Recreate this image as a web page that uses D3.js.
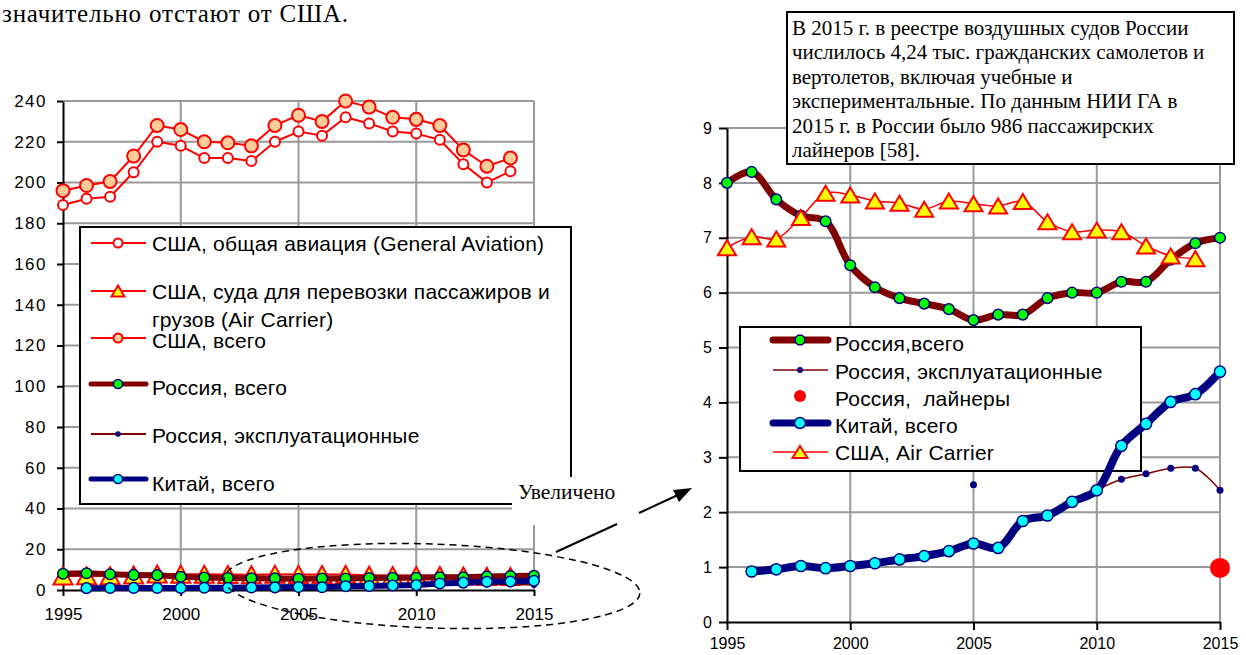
<!DOCTYPE html>
<html>
<head>
<meta charset="utf-8">
<script src="https://cdn.jsdelivr.net/npm/d3@7"></script>
<style>
  body { margin: 0; background: #fff; }
  svg { display: block; }
</style>
</head>
<body>
<svg width="1246" height="655"></svg>
<script>
/****************************************************************
    Data
/****************************************************************/
const years = [1995, 1996, 1997, 1998, 1999, 2000, 2001, 2002, 2003, 2004, 2005,
  2006, 2007, 2008, 2009, 2010, 2011, 2012, 2013, 2014, 2015]

// thousands of aircraft
const usGeneralAviation = [189, 192, 193, 205, 220, 218, 212, 212, 210.5, 220, 225,
  223, 232, 229, 225, 224, 221, 209, 200, 205.5, null]
const usTotal = [196, 198.5, 200.5, 213, 228, 226, 220, 219.5, 218, 228, 233,
  230, 240, 237, 232, 231, 228, 216, 208, 212, null]
const usAirCarrier = [6.82, 7.02, 6.98, 7.37, 7.81, 7.78, 7.67, 7.63, 7.52, 7.67, 7.62,
  7.58, 7.66, 7.29, 7.11, 7.14, 7.11, 6.85, 6.67, 6.62, null]
const russiaTotal = [8.0, 8.2, 7.7, 7.4, 7.3, 6.5, 6.1, 5.9, 5.8, 5.7, 5.5,
  5.6, 5.6, 5.9, 6.0, 6.0, 6.2, 6.2, 6.6, 6.9, 7.0]
const russiaInService = [null, null, null, null, null, null, null, null, null, null, 2.5,
  null, null, null, null, 2.4, 2.6, 2.7, 2.8, 2.8, 2.4]
const russiaAirliners = [null, null, null, null, null, null, null, null, null, null, null,
  null, null, null, null, null, null, null, null, null, 0.986]
const chinaTotal = [null, 0.92, 0.96, 1.02, 0.98, 1.02, 1.07, 1.14, 1.2, 1.29, 1.43,
  1.35, 1.84, 1.94, 2.19, 2.4, 3.21, 3.61, 4.01, 4.15, 4.56]

const xTicks = [1995, 2000, 2005, 2010, 2015]
const leftYTicks = [0, 20, 40, 60, 80, 100, 120, 140, 160, 180, 200, 220, 240]
const rightYTicks = [0, 1, 2, 3, 4, 5, 6, 7, 8, 9]

const leftLegendLabels = [
  ['США, общая авиация (General Aviation)'],
  ['США, суда для перевозки пассажиров и', 'грузов (Air Carrier)'],
  ['США, всего'],
  ['Россия, всего'],
  ['Россия, эксплуатационные'],
  ['Китай, всего']
]
const rightLegendLabels = ['Россия,всего', 'Россия, эксплуатационные', 'Россия,  лайнеры',
  'Китай, всего', 'США, Air Carrier']

const noteLines = [
  'В 2015 г. в реестре воздушных судов России',
  'числилось 4,24 тыс. гражданских самолетов и',
  'вертолетов, включая учебные и',
  'экспериментальные. По данным НИИ ГА в',
  '2015 г. в России было 986 пассажирских',
  'лайнеров [58].'
]
const headText = 'значительно отстают от США.'
const zoomText = 'Увеличено'

/****************************************************************
    Settings
/****************************************************************/
const settings = {
  sans: 'Liberation Sans, Arial, sans-serif',
  serif: 'Liberation Serif, Times New Roman, serif',
  grid: '#999999',
  red: '#ff0000',
  maroon: '#800000',
  navy: '#000080',
  green: '#00ff00',
  cyan: '#00ffff',
  yellow: '#ffff00',
  peach: '#ffcc99',
  legendSize: 21,
  legendSpacing: 0.2
}

const svg = d3.select('svg')

const xL = d3.scaleLinear().domain([1995, 2015]).range([63, 534])
const yL = d3.scaleLinear().domain([0, 240]).range([590, 101])
const xR = d3.scaleLinear().domain([1995, 2015]).range([727, 1220])
const yR = d3.scaleLinear().domain([0, 9]).range([622, 128])

/****************************************************************
    Helpers
/****************************************************************/
function triPath(w, h) {
  return `M0,${-h / 2}L${w / 2},${h / 2}L${-w / 2},${h / 2}Z`
}

function marker(g, m, cx, cy) {
  if (m.shape === 'triangle') {
    g.append('path')
      .attr('d', triPath(m.w, m.h))
      .attr('transform', `translate(${cx},${cy})`)
      .attr('fill', m.fill)
      .attr('stroke', m.stroke)
      .attr('stroke-width', m.sw)
      .attr('stroke-linejoin', 'miter')
  } else {
    g.append('circle')
      .attr('cx', cx)
      .attr('cy', cy)
      .attr('r', m.r)
      .attr('fill', m.fill)
      .attr('stroke', m.stroke || 'none')
      .attr('stroke-width', m.sw || 0)
  }
}

function gridAndAxes(x, y, yTicks, o) {
  let g = svg.append('g')
  let [x0, x1] = x.range()
  g.selectAll('line.h')
    .data(yTicks.slice(1))
    .enter()
    .append('line')
    .attr('x1', x0)
    .attr('x2', x1)
    .attr('y1', d => y(d))
    .attr('y2', d => y(d))
    .attr('stroke', settings.grid)
    .attr('stroke-width', 2)
  g.selectAll('line.v')
    .data(xTicks.slice(1))
    .enter()
    .append('line')
    .attr('x1', d => x(d))
    .attr('x2', d => x(d))
    .attr('y1', y.range()[0])
    .attr('y2', y.range()[1])
    .attr('stroke', settings.grid)
    .attr('stroke-width', 2)

  let ay = g.append('g')
    .attr('transform', `translate(${x0},0)`)
    .call(d3.axisLeft(y).tickValues(yTicks).tickSize(o.tick).tickSizeOuter(0).tickPadding(o.padY))
  let ax = g.append('g')
    .attr('transform', `translate(0,${y.range()[0]})`)
    .call(d3.axisBottom(x).tickValues(xTicks).tickFormat(d3.format('d')).tickSize(o.tick).tickSizeOuter(0).tickPadding(o.padX))
  for (let a of [ay, ax]) {
    a.attr('font-size', o.font).attr('font-family', settings.sans)
    a.select('.domain').attr('stroke', '#000').attr('stroke-width', 2)
    a.selectAll('.tick line').attr('stroke', '#000').attr('stroke-width', 2)
    a.selectAll('.tick text').attr('fill', '#000')
  }
  ay.selectAll('.tick text').style('letter-spacing', o.yls + 'px')
}

function drawSeries(x, y, values, st) {
  let g = svg.append('g')
  let pts = years.map((yr, i) => [yr, values[i]])
  if (st.line) {
    g.append('path')
      .datum(pts)
      .attr('d', d3.line()
        .defined(d => d[1] != null)
        .x(d => x(d[0]))
        .y(d => y(d[1]))
        .curve(st.curve || d3.curveLinear))
      .attr('fill', 'none')
      .attr('stroke', st.line)
      .attr('stroke-width', st.lw)
      .attr('stroke-linejoin', 'round')
  }
  return () => pts.filter(d => d[1] != null).forEach(d => marker(g, st.m, x(d[0]), y(d[1])))
}

function legendRow(lx, ly, st, m, lw) {
  let g = svg.append('g')
  if (st.line) {
    g.append('line')
      .attr('x1', lx)
      .attr('x2', lx + 55)
      .attr('y1', ly)
      .attr('y2', ly)
      .attr('stroke', st.line)
      .attr('stroke-width', lw)
      .attr('stroke-linecap', lw > 3 ? 'round' : 'butt')
  }
  marker(g, m, lx + 27, ly)
}

function legendText(tx, ty, text) {
  svg.append('text')
    .attr('x', tx)
    .attr('y', ty)
    .attr('font-family', settings.sans)
    .attr('font-size', settings.legendSize)
    .style('letter-spacing', settings.legendSpacing + 'px')
    .style('white-space', 'pre')
    .text(text)
}

/****************************************************************
    Text above
/****************************************************************/
svg.append('text')
  .attr('x', 2)
  .attr('y', 22)
  .attr('font-family', settings.serif)
  .attr('font-size', 25)
  .style('letter-spacing', '0.8px')
  .text(headText)

/****************************************************************
    Left chart
/****************************************************************/
gridAndAxes(xL, yL, leftYTicks, { tick: 6, padY: 10, padX: 12, font: 17, yls: 1.5 })

svg.append('rect')
  .attr('x', 80).attr('y', 227).attr('width', 491).attr('height', 277)
  .attr('fill', '#fff').attr('stroke', '#000').attr('stroke-width', 2)

const leftStyles = [
  { values: usGeneralAviation, line: settings.red, lw: 2, m: { r: 5, fill: '#fff', stroke: settings.red, sw: 2 } },
  { values: usAirCarrier, line: settings.red, lw: 2, m: { shape: 'triangle', w: 19, h: 17, fill: settings.yellow, stroke: settings.red, sw: 2 } },
  { values: usTotal, line: settings.red, lw: 2, m: { r: 6.5, fill: settings.peach, stroke: settings.red, sw: 2 } },
  { values: russiaTotal, line: settings.maroon, lw: 6, m: { r: 5.3, fill: settings.green, stroke: settings.navy, sw: 1.5 } },
  { values: russiaInService, line: settings.maroon, lw: 1.5, m: { r: 3, fill: settings.navy } },
  { values: chinaTotal, line: settings.navy, lw: 6, m: { r: 5.3, fill: settings.cyan, stroke: settings.navy, sw: 1.5 } }
]
const leftMarkers = leftStyles.map(st => drawSeries(xL, yL, st.values, st))
leftMarkers.forEach(f => f())

// legend, left chart
const leftRowY = [243, 291, 338, 384, 434, 479]
const leftTextY = [[251], [299, 327], [348], [395], [443], [491]]
const leftLegendMarkers = [
  { r: 4.5, fill: '#fff', stroke: settings.red, sw: 2 },
  { shape: 'triangle', w: 13, h: 11, fill: settings.yellow, stroke: settings.red, sw: 2 },
  { r: 4.5, fill: settings.peach, stroke: settings.red, sw: 2 },
  { r: 4.5, fill: settings.green, stroke: settings.navy, sw: 1.5 },
  { r: 2.8, fill: settings.navy },
  { r: 4.5, fill: settings.cyan, stroke: settings.navy, sw: 1.5 }
]
leftStyles.forEach((st, i) => {
  legendRow(91, leftRowY[i], st, leftLegendMarkers[i], st.lw > 3 ? 5 : 2)
  leftLegendLabels[i].forEach((t, j) => legendText(152, leftTextY[i][j], t))
})

/****************************************************************
    Right chart
/****************************************************************/
gridAndAxes(xR, yR, rightYTicks, { tick: 8, padY: 7, padX: 8, font: 16, yls: 0 })

svg.append('rect')
  .attr('x', 787).attr('y', 12).attr('width', 447).attr('height', 152)
  .attr('fill', '#fff').attr('stroke', '#000').attr('stroke-width', 2)
svg.append('g')
  .selectAll('text')
  .data(noteLines)
  .enter()
  .append('text')
  .attr('x', 792)
  .attr('y', (d, i) => 35 + i * 24.4)
  .attr('font-family', settings.serif)
  .attr('font-size', 21)
  .text(d => d)

svg.append('rect')
  .attr('x', 740).attr('y', 327).attr('width', 401).attr('height', 144)
  .attr('fill', '#fff').attr('stroke', '#000').attr('stroke-width', 2)

const smooth = d3.curveCatmullRom.alpha(0.5)
const rightStyles = [
  { values: russiaTotal, line: settings.maroon, lw: 7, curve: smooth, m: { r: 5.3, fill: settings.green, stroke: settings.navy, sw: 1.5 } },
  { values: russiaInService, line: settings.maroon, lw: 1.5, curve: smooth, m: { r: 3.5, fill: settings.navy } },
  { values: russiaAirliners, line: null, m: { r: 10, fill: settings.red } },
  { values: chinaTotal, line: settings.navy, lw: 8, curve: smooth, m: { r: 5.6, fill: settings.cyan, stroke: settings.navy, sw: 1.5 } },
  { values: usAirCarrier, line: settings.red, lw: 1.5, curve: smooth, m: { shape: 'triangle', w: 18, h: 15, fill: settings.yellow, stroke: settings.red, sw: 2 } }
]
const rightMarkers = rightStyles.map(st => drawSeries(xR, yR, st.values, st))
rightMarkers.forEach(f => f())

// legend, right chart
const rightRowY = [340, 370, 396, 423, 452]
const rightTextY = [351, 379, 406, 433, 460]
const rightLegendMarkers = [
  { r: 5, fill: settings.green, stroke: settings.navy, sw: 1.5 },
  { r: 3, fill: settings.navy },
  { r: 6, fill: settings.red },
  { r: 5.5, fill: settings.cyan, stroke: settings.navy, sw: 1.5 },
  { shape: 'triangle', w: 15, h: 12, fill: settings.yellow, stroke: settings.red, sw: 2 }
]
rightStyles.forEach((st, i) => {
  legendRow(773, rightRowY[i], st, rightLegendMarkers[i], st.lw > 3 ? 7 : 1.5)
  legendText(835, rightTextY[i], rightLegendLabels[i])
})

/****************************************************************
    "Zoomed" callout: label, dashed ellipse and arrow
/****************************************************************/
svg.append('rect')
  .attr('x', 512).attr('y', 477).attr('width', 127).attr('height', 48)
  .attr('fill', '#fff')
svg.append('text')
  .attr('x', 518)
  .attr('y', 499)
  .attr('font-family', settings.serif)
  .attr('font-size', 21.5)
  .text(zoomText)

svg.append('ellipse')
  .attr('cx', 432).attr('cy', 586).attr('rx', 208).attr('ry', 42)
  .attr('transform', 'rotate(2,432,586)')
  .attr('fill', 'none').attr('stroke', '#000').attr('stroke-width', 1.5)
  .attr('stroke-dasharray', '7,5')

const arrowSegs = [[[556, 552], [617, 524]], [[639, 513], [680, 494]]]
arrowSegs.forEach(s => {
  svg.append('line')
    .attr('x1', s[0][0]).attr('y1', s[0][1]).attr('x2', s[1][0]).attr('y2', s[1][1])
    .attr('stroke', '#000').attr('stroke-width', 2)
})
svg.append('path')
  .attr('d', 'M692,488L673,490L679,502Z')
  .attr('fill', '#000')
</script>
</body>
</html>
